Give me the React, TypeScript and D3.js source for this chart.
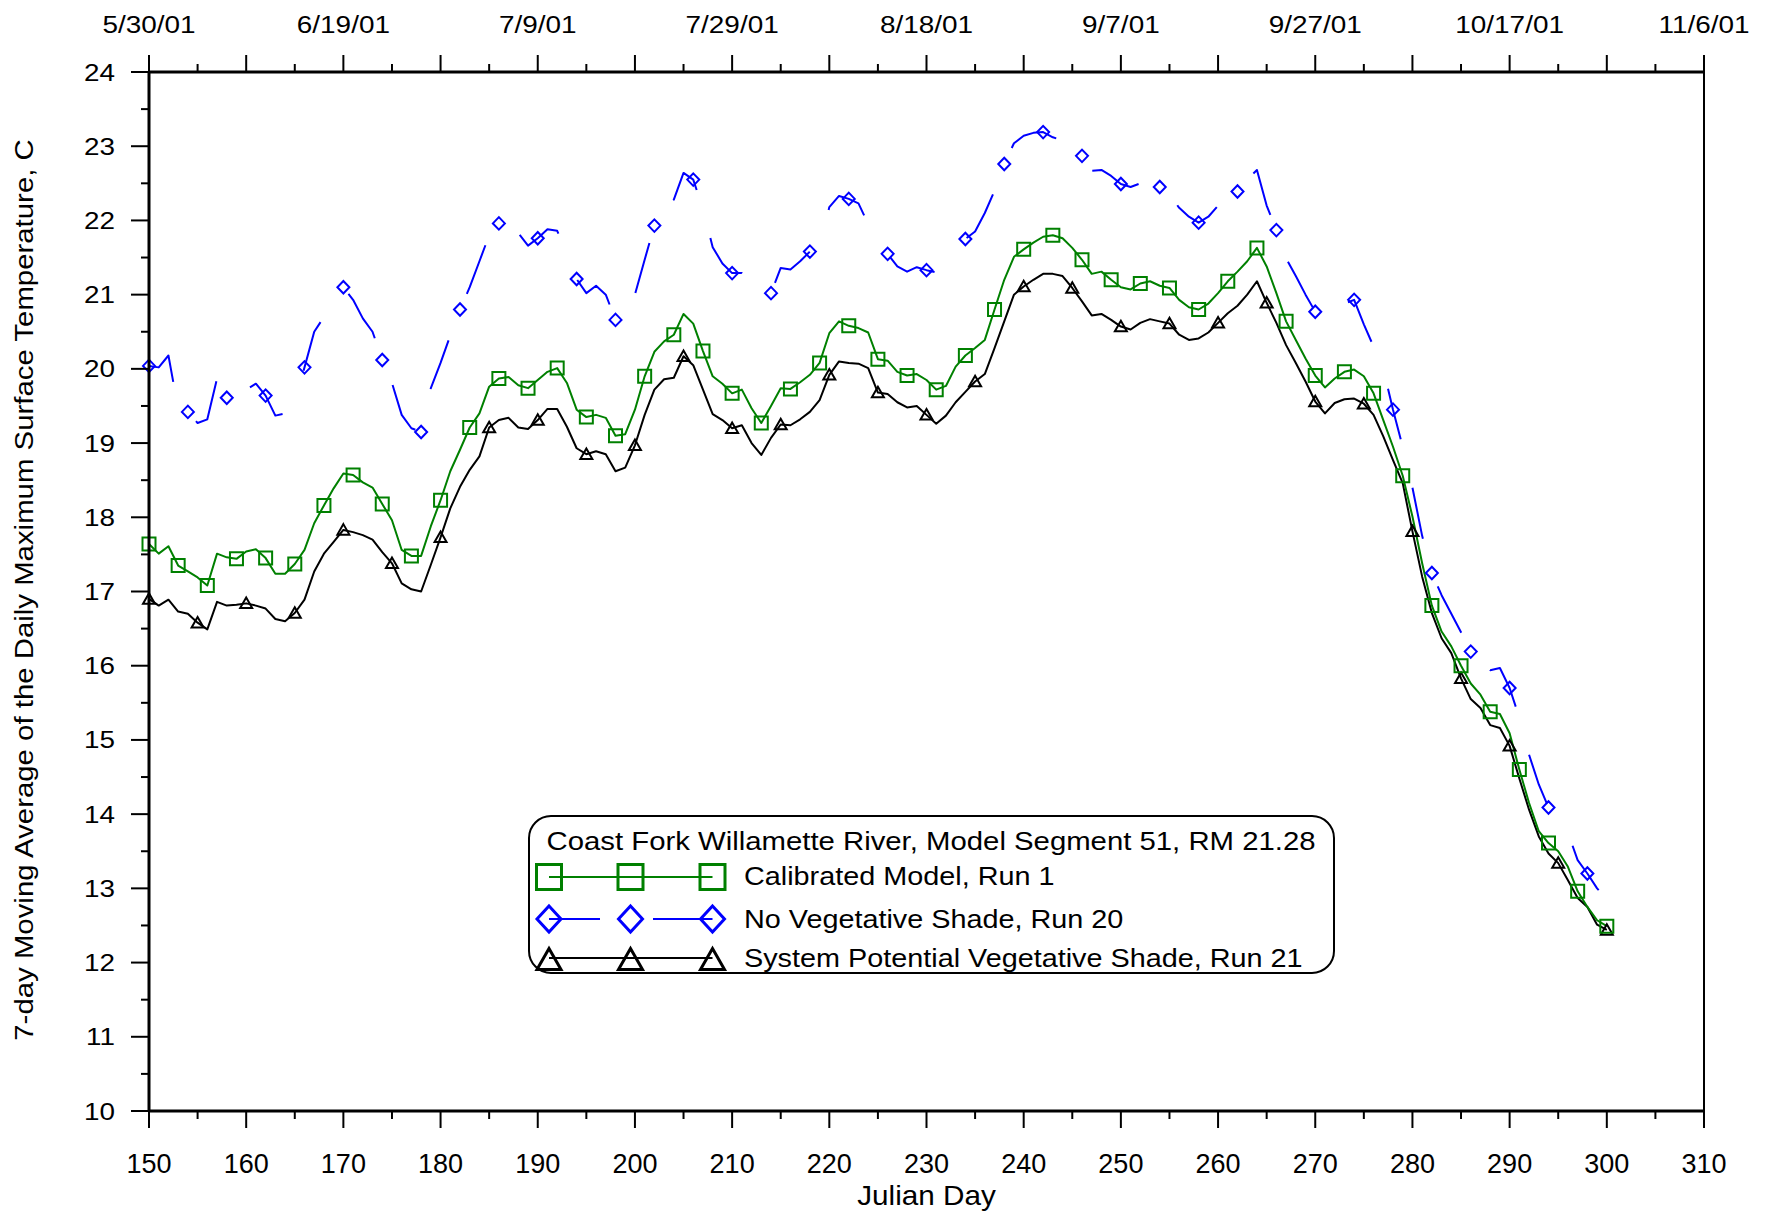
import React from "react";
import * as d3 from "d3";

const startDay = 150;

const calibratedRun1 = [
  17.64, 17.51, 17.61, 17.35, 17.27, 17.19, 17.08, 17.51, 17.46, 17.44,
  17.54, 17.57, 17.45, 17.24, 17.24, 17.37, 17.56, 17.92, 18.16, 18.39,
  18.59, 18.57, 18.47, 18.40, 18.18, 17.96, 17.56, 17.48, 17.48, 17.88,
  18.23, 18.62, 18.91, 19.21, 19.40, 19.76, 19.87, 19.89, 19.78, 19.74,
  19.85, 19.96, 20.01, 19.81, 19.45, 19.35, 19.38, 19.34, 19.10, 19.12,
  19.45, 19.90, 20.23, 20.37, 20.46, 20.74, 20.61, 20.24, 19.90, 19.80,
  19.67, 19.72, 19.47, 19.27, 19.50, 19.74, 19.73, 19.82, 19.92, 20.08,
  20.48, 20.64, 20.58, 20.55, 20.49, 20.13, 20.11, 19.96, 19.91, 19.93,
  19.85, 19.72, 19.77, 20.03, 20.18, 20.28, 20.39, 20.80, 21.20, 21.51,
  21.61, 21.70, 21.78, 21.80, 21.76, 21.63, 21.47, 21.28, 21.31, 21.20,
  21.10, 21.07, 21.15, 21.18, 21.12, 21.09, 20.93, 20.83, 20.80, 20.88,
  21.02, 21.18, 21.31, 21.45, 21.63, 21.38, 21.02, 20.64, 20.39, 20.14,
  19.91, 19.75, 19.87, 19.96, 19.99, 19.90, 19.67, 19.31, 18.95, 18.56,
  18.01, 17.38, 16.81, 16.46, 16.26, 16.00, 15.76, 15.61, 15.38, 15.35,
  15.09, 14.60, 14.15, 13.77, 13.61, 13.50, 13.29, 12.96, 12.75, 12.57,
  12.49,
];

const noVegShadeRun20 = [
  20.04, 20.02, 20.18, 19.46, 19.42, 19.27, 19.32, 19.87, 19.61, 19.65,
  19.72, 19.80, 19.64, 19.37, 19.40, 19.55, 20.02, 20.50, 20.70, 20.90,
  21.10, 20.93, 20.68, 20.50, 20.12, 19.81, 19.38, 19.20, 19.15, 19.74,
  20.08, 20.45, 20.80, 21.10, 21.45, 21.80, 21.96, 21.90, 21.83, 21.66,
  21.76, 21.88, 21.86, 21.55, 21.21, 21.02, 21.12, 21.00, 20.66, 20.85,
  21.00, 21.47, 21.93, 22.15, 22.28, 22.64, 22.55, 22.15, 21.64, 21.42,
  21.29, 21.29, 21.10, 21.00, 21.02, 21.36, 21.34, 21.45, 21.58, 21.62,
  22.18, 22.33, 22.29, 22.23, 21.95, 21.66, 21.55, 21.38, 21.31, 21.37,
  21.33, 21.30, 21.33, 21.51, 21.75, 21.85, 22.10, 22.40, 22.76, 23.04,
  23.14, 23.18, 23.19, 23.12, 23.08, 23.00, 22.87, 22.67, 22.68, 22.60,
  22.49, 22.45, 22.50, 22.55, 22.45, 22.35, 22.17, 22.05, 21.97, 22.05,
  22.20, 22.29, 22.39, 22.55, 22.68, 22.20, 21.87, 21.49, 21.25, 21.00,
  20.77, 20.64, 20.83, 20.88, 20.93, 20.60, 20.30, 20.00, 19.45, 18.95,
  18.40, 17.75, 17.25, 16.95, 16.70, 16.45, 16.19, 16.16, 15.94, 15.97,
  15.70, 15.30, 14.80, 14.40, 14.09, 13.95, 13.75, 13.38, 13.20, 13.00,
  12.85,
];

const systemPotentialRun21 = [
  16.90, 16.81, 16.89, 16.73, 16.70, 16.58, 16.49, 16.86, 16.81, 16.82,
  16.84, 16.81, 16.77, 16.63, 16.60, 16.71, 16.89, 17.27, 17.51, 17.67,
  17.83, 17.80, 17.76, 17.70, 17.53, 17.38, 17.11, 17.03, 17.00, 17.36,
  17.73, 18.12, 18.41, 18.64, 18.82, 19.21, 19.31, 19.34, 19.21, 19.19,
  19.31, 19.46, 19.46, 19.22, 18.93, 18.85, 18.89, 18.85, 18.62, 18.67,
  18.97, 19.38, 19.72, 19.86, 19.88, 20.17, 20.05, 19.72, 19.39, 19.31,
  19.20, 19.24, 19.00, 18.84, 19.07, 19.25, 19.24, 19.32, 19.42, 19.58,
  19.92, 20.10, 20.08, 20.07, 20.01, 19.68, 19.66, 19.55, 19.48, 19.50,
  19.38, 19.26, 19.37, 19.55, 19.69, 19.83, 19.93, 20.28, 20.64, 21.00,
  21.11, 21.20, 21.28, 21.28, 21.25, 21.09, 20.91, 20.72, 20.74, 20.66,
  20.57, 20.53, 20.62, 20.67, 20.64, 20.61, 20.46, 20.39, 20.41, 20.49,
  20.62, 20.75, 20.85, 21.00, 21.18, 20.89, 20.62, 20.32, 20.08, 19.83,
  19.56, 19.40, 19.54, 19.59, 19.60, 19.53, 19.38, 19.09, 18.77, 18.46,
  17.81, 17.20, 16.71, 16.37, 16.17, 15.83, 15.55, 15.43, 15.20, 15.16,
  14.92, 14.48, 14.06, 13.70, 13.47, 13.34, 13.11, 12.87, 12.75, 12.51,
  12.44,
];

const xTickValues = [150, 160, 170, 180, 190, 200, 210, 220, 230, 240, 250, 260, 270, 280, 290, 300, 310];
const yTickValues = [10, 11, 12, 13, 14, 15, 16, 17, 18, 19, 20, 21, 22, 23, 24];
const dateTickDays = [150, 170, 190, 210, 230, 250, 270, 290, 310];
const dateTickLabels = ["5/30/01", "6/19/01", "7/9/01", "7/29/01", "8/18/01", "9/7/01", "9/27/01", "10/17/01", "11/6/01"];

const legendTitle = "Coast Fork Willamette River, Model Segment 51, RM 21.28";
const seriesNames = [
  "Calibrated Model, Run 1",
  "No Vegetative Shade, Run 20",
  "System Potential Vegetative Shade, Run 21",
];
const xAxisTitle = "Julian Day";
const yAxisTitle = "7-day Moving Average of the Daily Maximum Surface Temperature, C";

const W = 1772;
const H = 1212;
const M = { left: 149, right: 68, top: 72, bottom: 101 };
const FONT = "'Liberation Sans', Arial, Helvetica, sans-serif";
const GREEN = "#008000";
const BLUE = "#0000ff";
const BLACK = "#000000";

const sq = (s: number) => `M${-s / 2},${-s / 2}h${s}v${s}h${-s}Z`;
const dia = (w: number, h: number) => `M0,${-h / 2}L${w / 2},0L0,${h / 2}L${-w / 2},0Z`;
const tri = (w: number, h: number) => `M0,${-h * 0.55}L${w / 2},${h * 0.45}L${-w / 2},${h * 0.45}Z`;

function SText(props: {
  x: number; y: number; size: number; sx?: number; rotate?: number;
  anchor?: "start" | "middle" | "end"; children: React.ReactNode;
}) {
  const { x, y, size, sx = 1, rotate = 0, anchor = "start", children } = props;
  return (
    <g transform={`translate(${x},${y}) rotate(${rotate}) scale(${sx},1)`}>
      <text x={0} y={0} fontSize={size} fontFamily={FONT} textAnchor={anchor} fill="#000">
        {children}
      </text>
    </g>
  );
}

export default function App() {
  const x = d3.scaleLinear().domain([150, 310]).range([M.left, W - M.right]);
  const y = d3.scaleLinear().domain([10, 24]).range([H - M.bottom, M.top]);
  const toPts = (vals: number[]) => vals.map((v, i) => [startDay + i, v] as [number, number]);
  const line = d3.line<[number, number]>().x((d) => x(d[0])).y((d) => y(d[1]));

  const green = toPts(calibratedRun1);
  const blue = toPts(noVegShadeRun20);
  const black = toPts(systemPotentialRun21);

  const x0 = x(150), x1 = x(310), yb = y(10), yt = y(24);
  const minorX = xTickValues.slice(0, -1).map((v) => v + 5);
  const minorY = yTickValues.slice(0, -1).map((v) => v + 0.5);

  return (
    <svg width={W} height={H} style={{ position: "absolute", left: 0, top: 0, background: "#fff" }}>
      <rect x={0} y={0} width={W} height={H} fill="#fff" />

      {/* series lines */}
      <path d={line(black) || ""} fill="none" stroke={BLACK} strokeWidth={2} strokeLinejoin="round" />
      <path d={line(blue) || ""} fill="none" stroke={BLUE} strokeWidth={2} strokeDasharray="52 50" strokeLinejoin="round" />
      <path d={line(green) || ""} fill="none" stroke={GREEN} strokeWidth={2} strokeLinejoin="round" />

      {/* markers */}
      {black.filter((_, i) => i % 5 === 0).map((d, i) => (
        <path key={"t" + i} d={tri(12, 10.5)} transform={`translate(${x(d[0])},${y(d[1])})`} fill="none" stroke={BLACK} strokeWidth={2} />
      ))}
      {blue.filter((_, i) => i % 4 === 0).map((d, i) => (
        <path key={"d" + i} d={dia(12, 12.5)} transform={`translate(${x(d[0])},${y(d[1])})`} fill="none" stroke={BLUE} strokeWidth={2} />
      ))}
      {green.filter((_, i) => i % 3 === 0).map((d, i) => (
        <path key={"s" + i} d={sq(13)} transform={`translate(${x(d[0])},${y(d[1])})`} fill="none" stroke={GREEN} strokeWidth={2} />
      ))}

      {/* frame */}
      <line x1={x0} x2={x1} y1={yb} y2={yb} stroke="#000" strokeWidth={3} />
      <line x1={x0} x2={x1} y1={yt} y2={yt} stroke="#000" strokeWidth={3} />
      <line x1={x0} x2={x0} y1={yt} y2={yb} stroke="#000" strokeWidth={3} />
      <line x1={x1} x2={x1} y1={yt} y2={yb} stroke="#000" strokeWidth={2} />

      {/* bottom ticks */}
      {xTickValues.map((v) => (
        <line key={"bx" + v} x1={x(v)} x2={x(v)} y1={yb} y2={yb + 17} stroke="#000" strokeWidth={2} />
      ))}
      {minorX.map((v) => (
        <line key={"bxm" + v} x1={x(v)} x2={x(v)} y1={yb} y2={yb + 8} stroke="#000" strokeWidth={2} />
      ))}
      {xTickValues.map((v) => (
        <SText key={"bl" + v} x={x(v)} y={1173} size={27} anchor="middle">{String(v)}</SText>
      ))}
      <SText x={(x0 + x1) / 2} y={1205} size={27} sx={1.1} anchor="middle">{xAxisTitle}</SText>

      {/* top ticks */}
      {xTickValues.map((v) => (
        <line key={"tx" + v} x1={x(v)} x2={x(v)} y1={yt} y2={yt - 17} stroke="#000" strokeWidth={2} />
      ))}
      {minorX.map((v) => (
        <line key={"txm" + v} x1={x(v)} x2={x(v)} y1={yt} y2={yt - 8} stroke="#000" strokeWidth={2} />
      ))}
      {dateTickDays.map((v, i) => (
        <SText key={"dl" + v} x={x(v)} y={32.5} size={24.5} sx={1.14} anchor="middle">{dateTickLabels[i]}</SText>
      ))}

      {/* left ticks */}
      {yTickValues.map((v) => (
        <line key={"ly" + v} x1={x0 - 18} x2={x0} y1={y(v)} y2={y(v)} stroke="#000" strokeWidth={2} />
      ))}
      {minorY.map((v) => (
        <line key={"lym" + v} x1={x0 - 8} x2={x0} y1={y(v)} y2={y(v)} stroke="#000" strokeWidth={2} />
      ))}
      {yTickValues.map((v) => (
        <SText key={"yl" + v} x={115} y={y(v) + 8.5} size={24} sx={1.16} anchor="end">{String(v)}</SText>
      ))}
      <SText x={33} y={590} size={25} sx={1.175} rotate={-90} anchor="middle">{yAxisTitle}</SText>

      {/* legend */}
      <rect x={529} y={816} width={805} height={157} rx={22} ry={22} fill="#fff" stroke="#000" strokeWidth={2} />
      <SText x={931} y={850} size={25.5} sx={1.15} anchor="middle">{legendTitle}</SText>

      <line x1={549} x2={712.5} y1={877} y2={877} stroke={GREEN} strokeWidth={2} />
      {[549, 630.5, 712.5].map((lx) => (
        <path key={"lg" + lx} d={sq(25)} transform={`translate(${lx},877)`} fill="none" stroke={GREEN} strokeWidth={3} />
      ))}
      <SText x={744} y={885} size={25.5} sx={1.13}>{seriesNames[0]}</SText>

      <line x1={549} x2={712.5} y1={919} y2={919} stroke={BLUE} strokeWidth={2} strokeDasharray="51 53 60" />
      {[549, 630.5, 712.5].map((lx) => (
        <path key={"lb" + lx} d={dia(24, 26)} transform={`translate(${lx},919)`} fill="none" stroke={BLUE} strokeWidth={3} />
      ))}
      <SText x={744} y={927.5} size={25.5} sx={1.13}>{seriesNames[1]}</SText>

      <line x1={549} x2={712.5} y1={958} y2={958} stroke={BLACK} strokeWidth={2} />
      {[549, 630.5, 712.5].map((lx) => (
        <path key={"lk" + lx} d={tri(24, 21)} transform={`translate(${lx},960)`} fill="none" stroke={BLACK} strokeWidth={3} />
      ))}
      <SText x={744} y={967} size={25.5} sx={1.13}>{seriesNames[2]}</SText>
    </svg>
  );
}
